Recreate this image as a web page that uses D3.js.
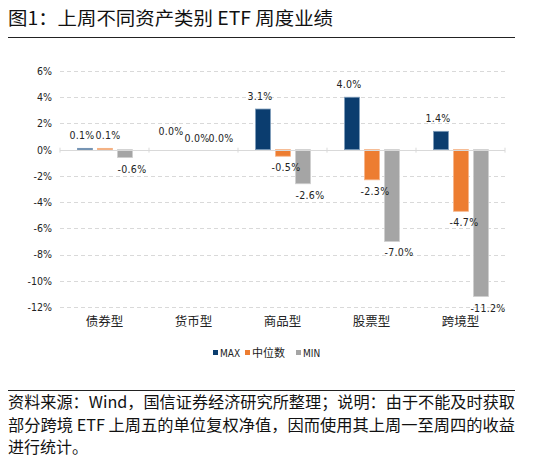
<!DOCTYPE html>
<html><head><meta charset="utf-8">
<script src="https://cdn.jsdelivr.net/npm/d3@7"></script>
<style>
html,body{margin:0;padding:0;background:#fff;}
svg{display:block;}
</style></head>
<body>
<svg id="c" width="535" height="463"></svg>
<script>
const categories = ["债券型","货币型","商品型","股票型","跨境型"];
const seriesNames = ["MAX","中位数","MIN"];
const maxValues = [0.1, 0.0, 3.1, 4.0, 1.4];
const medianValues = [0.1, 0.0, -0.5, -2.3, -4.7];
const minValues = [-0.6, 0.0, -2.6, -7.0, -11.2];
const yTicks = [6,4,2,0,-2,-4,-6,-8,-10,-12];
const colors = ["#0b3d6f","#ed7d31","#a5a5a5"];
const strokes = ["#7f9dbb","#f5b58a","#cfcfcf"];

const svg = d3.select("#c");
const font = "'Noto Sans CJK SC','Noto Sans',sans-serif";

// title
svg.append("text").attr("x",8).attr("y",25).attr("font-family",font).attr("font-size",18)
  .attr("fill","#111").attr("textLength",325).attr("lengthAdjust","spacingAndGlyphs")
  .text("图1：上周不同资产类别 ETF 周度业绩");
svg.append("line").attr("x1",8).attr("x2",515).attr("y1",37.5).attr("y2",37.5).attr("stroke","#222").attr("stroke-width",1.2);

const x0 = d3.scaleBand().domain(categories).range([60,505]).paddingInner(0).paddingOuter(0);
const x1 = d3.scaleBand().domain(seriesNames).range([17,73]).paddingInner(0.2).paddingOuter(0);
const y = d3.scaleLinear().domain([-12,6]).range([307,71]);

// gridlines
svg.append("g").selectAll("line").data(yTicks.filter(t=>t!==0)).join("line")
  .attr("x1",60).attr("x2",505).attr("y1",d=>Math.round(y(d))+0.5).attr("y2",d=>Math.round(y(d))+0.5)
  .attr("stroke","#d9d9d9").attr("stroke-dasharray","4,3");

// y axis labels
const yAxis = d3.axisLeft(y).tickValues(yTicks).tickFormat(d=>d+"%").tickSize(0).tickPadding(0);
const ya = svg.append("g").attr("transform","translate(52,0)").call(yAxis);
ya.select(".domain").remove();
ya.selectAll("text").attr("font-family","'DejaVu Sans Condensed','Liberation Sans Narrow',sans-serif").attr("font-size",10.5).attr("fill","#222");

const series = [maxValues, medianValues, minValues];
const rows = [];
categories.forEach((c,i)=>seriesNames.forEach((s,j)=>rows.push({c, s, j, v: series[j][i]})));

// bars
svg.append("g").selectAll("rect").data(rows).join("rect")
  .attr("x",d=>x0(d.c)+x1(d.s)+0.5)
  .attr("width",x1.bandwidth()-1)
  .attr("y",d=>y(Math.max(0,d.v)))
  .attr("height",d=>Math.abs(y(d.v)-y(0)))
  .attr("fill",d=>colors[d.j])
  .attr("stroke",d=>d.v===0?"none":strokes[d.j]).attr("stroke-width",0.8);

// zero axis
svg.append("line").attr("x1",60).attr("x2",505).attr("y1",Math.round(y(0))+0.5).attr("y2",Math.round(y(0))+0.5).attr("stroke","#d9d9d9").attr("stroke-width",1);
svg.append("g").selectAll("line").data(d3.range(6)).join("line")
  .attr("x1",d=>60+d*x0.step()).attr("x2",d=>60+d*x0.step())
  .attr("y1",y(0)-2).attr("y2",y(0)+3).attr("stroke","#d9d9d9");

// category labels
svg.append("g").selectAll("text").data(categories).join("text")
  .attr("x",d=>x0(d)+x0.bandwidth()/2).attr("y",326).attr("text-anchor","middle")
  .attr("font-family",font).attr("font-size",12.5).attr("fill","#222").text(d=>d);

// value labels
const lblFont = "'DejaVu Sans Condensed','Liberation Sans Narrow',sans-serif";
const dxs = [-3, 3, 7];
svg.append("g").selectAll("text").data(rows).join("text")
  .attr("x",d=>x0(d.c)+x1(d.s)+x1.bandwidth()/2 + dxs[d.j])
  .attr("y",d=>{
    if (d.v>0) return y(d.v)-9;
    if (d.v<0) return y(d.v)+15;
    return y(0)-(d.j===0?15:8);
  })
  .attr("text-anchor","middle").attr("font-family",lblFont).attr("font-size",10.5)
  .attr("letter-spacing",0.3).attr("fill","#222")
  .text(d=>d.v.toFixed(1)+"%");

// legend
const leg = svg.append("g");
const legItems = [{n:"MAX",x:213},{n:"中位数",x:245},{n:"MIN",x:296}];
legItems.forEach((it,i)=>{
  leg.append("rect").attr("x",it.x).attr("y",350).attr("width",5).attr("height",5).attr("fill",colors[i]);
  leg.append("text").attr("x",it.x+7).attr("y",356.5).attr("font-family",i===1?font:lblFont)
    .attr("font-size",i===1?11:10).attr("fill","#222").text(it.n);
});

// footer
svg.append("line").attr("x1",8).attr("x2",515).attr("y1",390.5).attr("y2",390.5).attr("stroke","#222").attr("stroke-width",1.2);
const foot = ["资料来源：Wind，国信证券经济研究所整理；说明：由于不能及时获取",
              "部分跨境 ETF 上周五的单位复权净值，因而使用其上周一至周四的收益",
              "进行统计。"];
foot.forEach((t,i)=>{
  const tx = svg.append("text").attr("x",8).attr("y",408+i*22.5).attr("font-family",font)
    .attr("font-size",16).attr("fill","#111").text(t);
  if(i<2) tx.attr("textLength",507).attr("lengthAdjust","spacingAndGlyphs");
});
</script>
</body></html>
